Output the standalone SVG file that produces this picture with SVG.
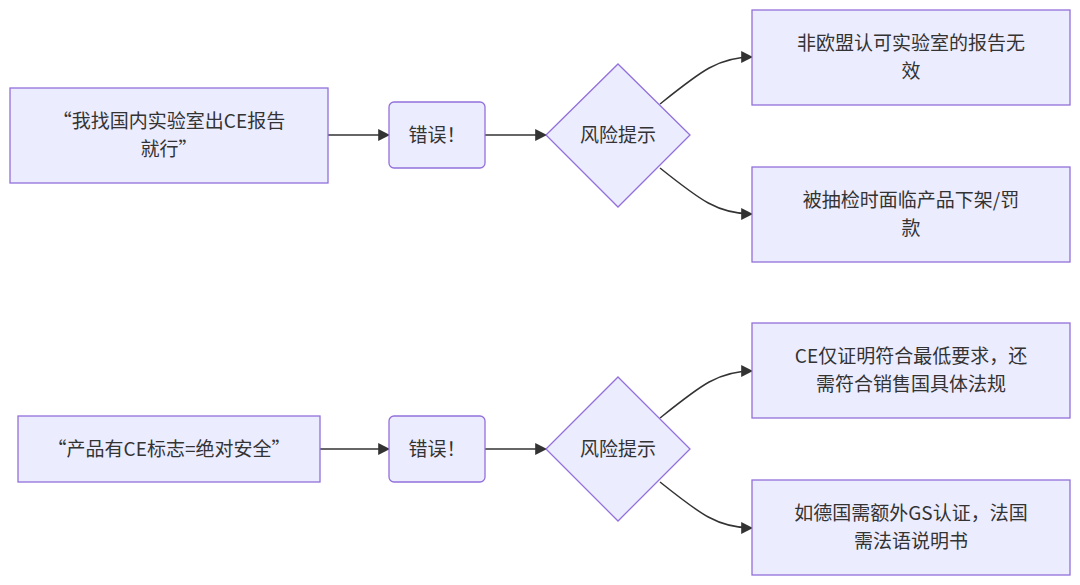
<svg xmlns="http://www.w3.org/2000/svg" width="1080" height="585" viewBox="0 0 1080 585">
<style>
.n{fill:#ECECFF;stroke:#9370DB;stroke-width:1.3}
.t{font-family:"Noto Sans CJK SC","Noto Sans",sans-serif;font-size:19px;fill:#333;text-anchor:middle}
.e{fill:none;stroke:#333;stroke-width:1.5;marker-end:url(#a)}
</style>
<defs><marker id="a" viewBox="0 0 10 10" refX="9" refY="5" markerWidth="8" markerHeight="8" orient="auto"><path d="M0,0L10,5L0,10z" fill="#333"/></marker></defs>
<rect width="1080" height="585" fill="#fff"/>
<g id="edges">
<path class="e" d="M328,135H389"/>
<path class="e" d="M485,135H546"/>
<path class="e" d="M660,104C700,72 718,57 752,57"/>
<path class="e" d="M660,168C700,200 718,214 752,214"/>
<path class="e" d="M320,449H389"/>
<path class="e" d="M485,449H546"/>
<path class="e" d="M660,418C700,386 718,371 752,371"/>
<path class="e" d="M660,482C700,514 718,528 752,528"/>
</g>
<g id="a1"><rect class="n" x="10" y="88" width="318" height="95"/><text class="t" x="169" y="128">“我找国内实验室出CE报告</text><text class="t" x="169" y="156">就行”</text></g>
<g id="b1"><rect class="n" x="389" y="102" width="96" height="66" rx="5"/><text class="t" x="437" y="142">错误！</text></g>
<g id="c1"><polygon class="n" points="618,64 690,135 618,207 546,135"/><text class="t" x="618" y="142">风险提示</text></g>
<g id="d1"><rect class="n" x="752" y="10" width="318" height="95"/><text class="t" x="911" y="50">非欧盟认可实验室的报告无</text><text class="t" x="911" y="78">效</text></g>
<g id="e1"><rect class="n" x="752" y="167" width="318" height="95"/><text class="t" x="911" y="207">被抽检时面临产品下架/罚</text><text class="t" x="911" y="235">款</text></g>
<g id="a2"><rect class="n" x="18" y="416" width="302" height="66"/><text class="t" x="169" y="456">“产品有CE标志=绝对安全”</text></g>
<g id="b2"><rect class="n" x="389" y="416" width="96" height="66" rx="5"/><text class="t" x="437" y="456">错误！</text></g>
<g id="c2"><polygon class="n" points="618,377 690,449 618,521 546,449"/><text class="t" x="618" y="456">风险提示</text></g>
<g id="d2"><rect class="n" x="752" y="323" width="318" height="95"/><text class="t" x="911" y="363">CE仅证明符合最低要求，还</text><text class="t" x="911" y="391">需符合销售国具体法规</text></g>
<g id="e2"><rect class="n" x="752" y="480" width="318" height="95"/><text class="t" x="911" y="520">如德国需额外GS认证，法国</text><text class="t" x="911" y="548">需法语说明书</text></g>
</svg>
